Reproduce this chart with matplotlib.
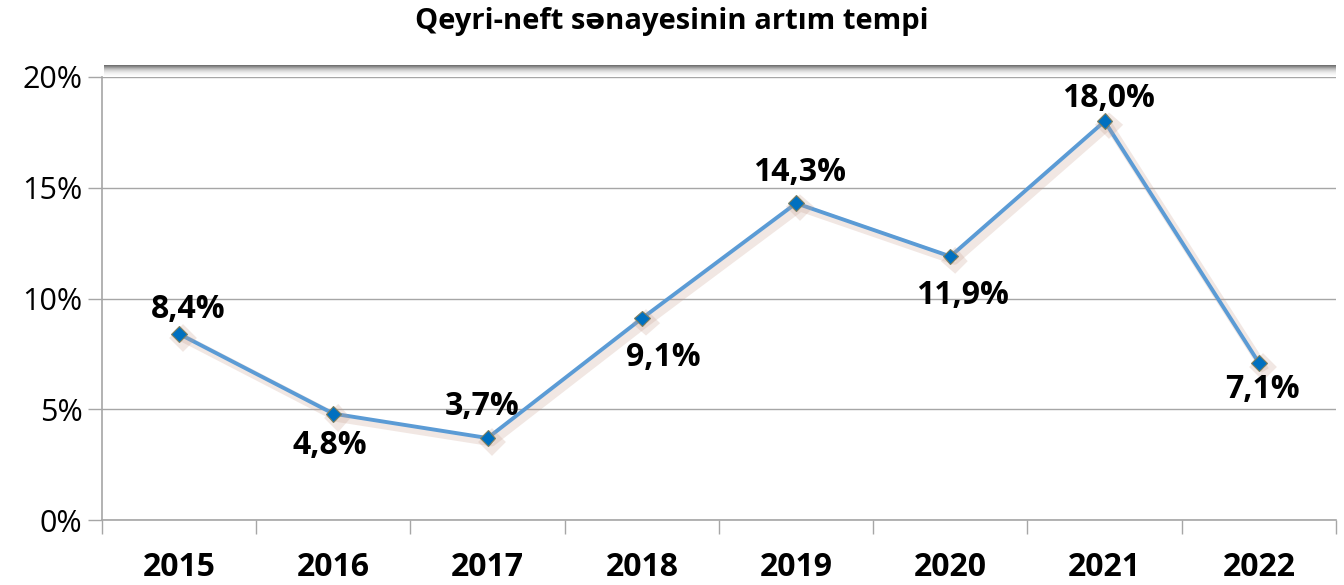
import matplotlib
matplotlib.use("Agg")
from matplotlib import pyplot as plt
import matplotlib.patheffects as pe
import numpy as np

plt.rcParams['font.family'] = ['Open Sans', 'DejaVu Sans']

# data
years = ["2015", "2016", "2017", "2018", "2019", "2020", "2021", "2022"]
growth = [8.4, 4.8, 3.7, 9.1, 14.3, 11.9, 18.0, 7.1]
title = "Qeyri-neft sənayesinin artım tempi"

# label offsets from the markers (pixels)
label_dx = [9, -4, -5, 21, 3, 12, 4, 4]
label_dy = [24, -32, 32, -39, 31, -39, 23, -27]

fig = plt.figure(figsize=(13.44, 5.85), dpi=100)
ax = fig.add_axes([102 / 1344, 1 - 520 / 585, (1336 - 102) / 1344, (520 - 77) / 585])

x = np.arange(len(years))
ax.plot(x, growth, color="#5B9BD5", lw=2.8, zorder=3,
        marker="D", markersize=8, markerfacecolor="#0070C0",
        markeredgecolor="#7F7F5F", markeredgewidth=0.8,
        path_effects=[pe.SimpleLineShadow(offset=(3, -3), shadow_color="#C8A090", alpha=0.25, linewidth=6),
                      pe.Normal()])

for xi, v, dx, dy in zip(x, growth, label_dx, label_dy):
    txt = f"{v:.1f}%".replace(".", ",")
    ax.annotate(txt, (xi, v), xytext=(dx, dy), textcoords="offset pixels",
                ha="center", va="center", fontsize=23, fontweight="bold", color="black", zorder=4)

ax.set_xlim(-0.5, len(years) - 0.5)
ax.set_ylim(0, 20)
ax.set_yticks([0, 5, 10, 15, 20])
ax.set_yticklabels([f"{t}%" for t in [0, 5, 10, 15, 20]], fontsize=22)
ax.yaxis.grid(True, color="#A6A6A6", lw=1)
ax.set_axisbelow(True)

ax.set_xticks(x)
ax.set_xticklabels(years, fontsize=23, fontweight="bold")
ax.set_xticks(np.arange(-0.5, len(years)), minor=True)
ax.tick_params(axis="x", which="major", length=0, pad=22)
ax.tick_params(axis="x", which="minor", length=10, color="#A6A6A6", width=1)
ax.tick_params(axis="y", length=10, color="#A6A6A6", width=1, pad=4)

for s in ["top", "right"]:
    ax.spines[s].set_visible(False)
for s in ["left", "bottom"]:
    ax.spines[s].set_color("#A6A6A6")
    ax.spines[s].set_linewidth(1.2)

# soft shadow above the plot area
grad = np.linspace(0, 1, 60).reshape(-1, 1) ** 1.5
sh = fig.add_axes([104 / 1344, 1 - 77 / 585, (1336 - 104) / 1344, 12 / 585])
sh.imshow(grad, aspect="auto", cmap="Greys", vmin=0, vmax=1.5, origin="lower")
sh.axis("off")

fig.text(0.5, 1 - 21 / 585, title, ha="center", va="center",
         fontsize=21, fontweight="bold")

fig.savefig("out.png", dpi=100)
